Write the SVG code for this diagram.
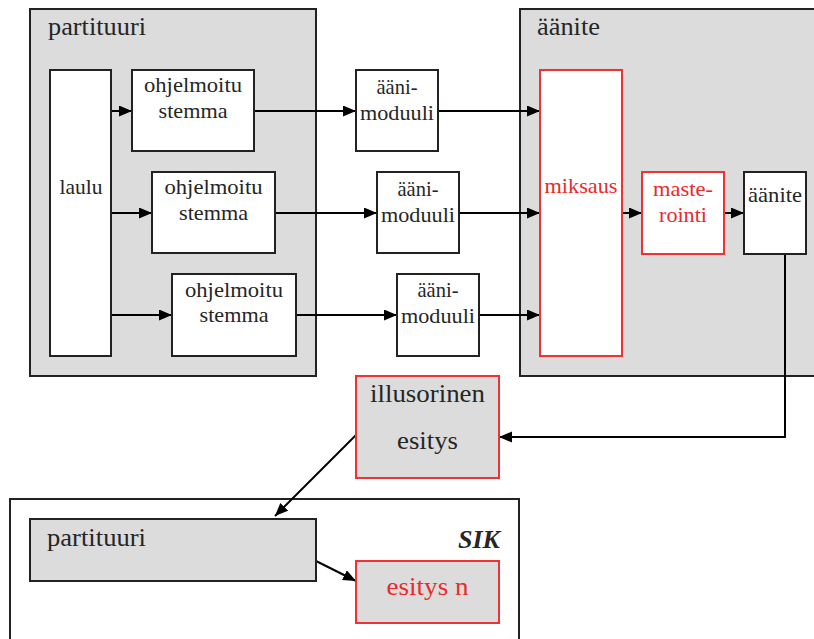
<svg xmlns="http://www.w3.org/2000/svg" width="814" height="639" viewBox="0 0 814 639">
<style>
  .grp{fill:#dcdcdc;stroke:#222;stroke-width:2}
  .box{fill:#fff;stroke:#222;stroke-width:2}
  .rbox{fill:#fff;stroke:#f03232;stroke-width:2}
  .rgbox{fill:#dcdcdc;stroke:#f03232;stroke-width:2}
  .wbox{fill:#fff;stroke:#222;stroke-width:2}
  text{fill:#262626}
  .big{font-size:26px}
  .sm{font-size:22px}
  .red{fill:#ea2a2a}
  .c{text-anchor:middle}
  .sik{font-weight:bold;font-style:italic;text-anchor:end}
  .ln{fill:none;stroke:#000;stroke-width:2}
</style>
<defs>
  <marker id="ah" markerUnits="userSpaceOnUse" markerWidth="14" markerHeight="12" refX="13" refY="5.5" orient="auto">
    <path d="M0,0 L13,5.5 L0,11 z" fill="#000"/>
  </marker>
</defs>
<g font-family="'Liberation Serif', 'Times New Roman', 'DejaVu Serif', serif">
<g id="partituuri-top">
  <rect class="grp" x="30" y="9" width="286" height="367"/>
  <text class="big" x="48" y="35" textLength="98" lengthAdjust="spacingAndGlyphs">partituuri</text>
</g>
<g id="aanite-top">
  <rect class="grp" x="520" y="9" width="310" height="367"/>
  <text class="big" x="537" y="35" textLength="63" lengthAdjust="spacingAndGlyphs">äänite</text>
</g>
<g id="sik">
  <rect class="wbox" x="10" y="499" width="509" height="160"/>
  <text class="big sik" x="500" y="548" textLength="42" lengthAdjust="spacingAndGlyphs">SIK</text>
</g>

<g id="connectors">
  <line class="ln" x1="111" y1="111" x2="132" y2="111" marker-end="url(#ah)"/>
  <line class="ln" x1="111" y1="213" x2="152" y2="213" marker-end="url(#ah)"/>
  <line class="ln" x1="111" y1="315" x2="172" y2="315" marker-end="url(#ah)"/>
  <line class="ln" x1="254" y1="111" x2="356" y2="111" marker-end="url(#ah)"/>
  <line class="ln" x1="275" y1="213" x2="377" y2="213" marker-end="url(#ah)"/>
  <line class="ln" x1="296" y1="315" x2="397" y2="315" marker-end="url(#ah)"/>
  <line class="ln" x1="438" y1="111" x2="540" y2="111" marker-end="url(#ah)"/>
  <line class="ln" x1="459" y1="213" x2="540" y2="213" marker-end="url(#ah)"/>
  <line class="ln" x1="479" y1="315" x2="540" y2="315" marker-end="url(#ah)"/>
  <line class="ln" x1="622" y1="213" x2="642" y2="213" marker-end="url(#ah)"/>
  <line class="ln" x1="724" y1="213" x2="744" y2="213" marker-end="url(#ah)"/>
  <polyline class="ln" points="785,254 785,437 499,437" marker-end="url(#ah)"/>
  <line class="ln" x1="356" y1="435" x2="275" y2="516" marker-end="url(#ah)"/>
  <line class="ln" x1="316" y1="561" x2="356" y2="581" marker-end="url(#ah)"/>
</g>

<g id="laulu">
  <rect class="box" x="50" y="70" width="61" height="286"/>
  <text class="sm c" x="81" y="194" textLength="43" lengthAdjust="spacingAndGlyphs">laulu</text>
</g>
<g id="stemma1">
  <rect class="box" x="132" y="70" width="122" height="81"/>
  <text class="sm c" x="193" y="92" textLength="98" lengthAdjust="spacingAndGlyphs">ohjelmoitu</text>
  <text class="sm c" x="193" y="118" textLength="69" lengthAdjust="spacingAndGlyphs">stemma</text>
</g>
<g id="stemma2">
  <rect class="box" x="152" y="172" width="123" height="81"/>
  <text class="sm c" x="213.5" y="194" textLength="98" lengthAdjust="spacingAndGlyphs">ohjelmoitu</text>
  <text class="sm c" x="213.5" y="220" textLength="69" lengthAdjust="spacingAndGlyphs">stemma</text>
</g>
<g id="stemma3">
  <rect class="box" x="172" y="274" width="124" height="82"/>
  <text class="sm c" x="234" y="297" textLength="98" lengthAdjust="spacingAndGlyphs">ohjelmoitu</text>
  <text class="sm c" x="234" y="322" textLength="69" lengthAdjust="spacingAndGlyphs">stemma</text>
</g>
<g id="moduuli1">
  <rect class="box" x="356" y="70" width="82" height="81"/>
  <text class="sm c" x="397" y="94" textLength="41" lengthAdjust="spacingAndGlyphs">ääni-</text>
  <text class="sm c" x="397" y="120" textLength="74" lengthAdjust="spacingAndGlyphs">moduuli</text>
</g>
<g id="moduuli2">
  <rect class="box" x="377" y="172" width="82" height="81"/>
  <text class="sm c" x="418" y="196" textLength="41" lengthAdjust="spacingAndGlyphs">ääni-</text>
  <text class="sm c" x="418" y="222" textLength="74" lengthAdjust="spacingAndGlyphs">moduuli</text>
</g>
<g id="moduuli3">
  <rect class="box" x="397" y="274" width="82" height="82"/>
  <text class="sm c" x="438" y="297" textLength="41" lengthAdjust="spacingAndGlyphs">ääni-</text>
  <text class="sm c" x="438" y="323" textLength="74" lengthAdjust="spacingAndGlyphs">moduuli</text>
</g>
<g id="miksaus">
  <rect class="rbox" x="540" y="70" width="82" height="286"/>
  <text class="sm c red" x="581" y="193" textLength="73" lengthAdjust="spacingAndGlyphs">miksaus</text>
</g>
<g id="masterointi">
  <rect class="rbox" x="642" y="172" width="82" height="82"/>
  <text class="sm c red" x="683" y="196" textLength="60" lengthAdjust="spacingAndGlyphs">maste-</text>
  <text class="sm c red" x="683" y="222" textLength="48" lengthAdjust="spacingAndGlyphs">rointi</text>
</g>
<g id="aanite-inner">
  <rect class="box" x="744" y="172" width="62" height="82"/>
  <text class="sm c" x="775" y="202" textLength="54" lengthAdjust="spacingAndGlyphs">äänite</text>
</g>
<g id="illusorinen">
  <rect class="rgbox" x="356" y="376" width="143" height="102"/>
  <text class="big c" x="427.5" y="402" textLength="115" lengthAdjust="spacingAndGlyphs">illusorinen</text>
  <text class="big c" x="427.5" y="449" textLength="61" lengthAdjust="spacingAndGlyphs">esitys</text>
</g>
<g id="partituuri-bottom">
  <rect class="grp" x="30" y="519" width="286" height="62"/>
  <text class="big" x="47" y="546" textLength="99" lengthAdjust="spacingAndGlyphs">partituuri</text>
</g>
<g id="esitys-n">
  <rect class="rgbox" x="356" y="561" width="143" height="62"/>
  <text class="big c red" x="427.5" y="595" textLength="82" lengthAdjust="spacingAndGlyphs">esitys n</text>
</g>
</g>
</svg>
